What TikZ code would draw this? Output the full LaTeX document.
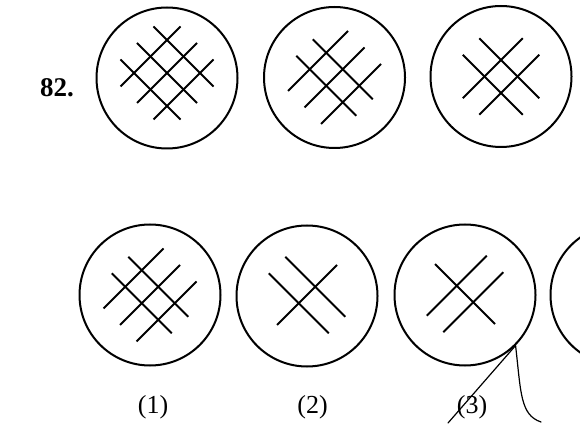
\documentclass[tikz,border=0pt]{standalone}
\usepackage{fontspec}
\setmainfont{Liberation Serif}
\usetikzlibrary{calc}

\begin{document}
\begin{tikzpicture}[x=1pt,y=-1pt,
  fig/.style={circle,draw,line width=2pt,minimum size=141pt,inner sep=0pt},
  bar/.style={line width=1.9pt},
  optlab/.style={font=\fontsize{26}{30}\selectfont},
  pen/.style={line width=1.2pt,line cap=round}]
\useasboundingbox (0,0) rectangle (580,427);
\clip (0,0) rectangle (580,427);
\def\hl{30}
\def\sp{16.5}
% figures: name/x/y/number of / bars/number of \ bars/grid shift
\foreach \nm/\cx/\cy/\na/\nb/\dy in {q1/167/78/3/3/-5,q2/334.5/77.5/3/2/0,q3/501/76.5/2/2/0,a1/150/295/3/2/0,a2/307/296/1/2/-1,a3/465/295/2/1/-1}
{
 \node[fig] (\nm) at (\cx,\cy) {};
 \foreach \k in {1,...,\na}{
  \pgfmathsetmacro\oo{(\k-(\na+1)/2)*\sp}
  \draw[bar] ($(\nm.center)+(\oo-\hl,\oo+\hl+\dy)$) -- ($(\nm.center)+(\oo+\hl,\oo-\hl+\dy)$);
 }
 \foreach \k in {1,...,\nb}{
  \pgfmathsetmacro\oo{(\k-(\nb+1)/2)*\sp}
  \draw[bar] ($(\nm.center)+(\oo-\hl,-\oo-\hl+\dy)$) -- ($(\nm.center)+(\oo+\hl,-\oo+\hl+\dy)$);
 }
}
\node[fig] (a4) at (621,295) {};
\node[font=\fontsize{27}{30}\selectfont\bfseries] (qno) at (57,88) {82.};
\foreach \i/\lx in {1/153,2/312.5,3/472}
 \node[optlab] (lab\i) at (\lx,407) {(\i)};
% pen marks
\coordinate (pen1) at (448,423);
\coordinate (pen2) at (541,422);
\draw[pen] (a3.-45) -- (pen1);
\draw[pen] (a3.-45) .. controls (521,392) and (520,415) .. (pen2);
\end{tikzpicture}
\end{document}
